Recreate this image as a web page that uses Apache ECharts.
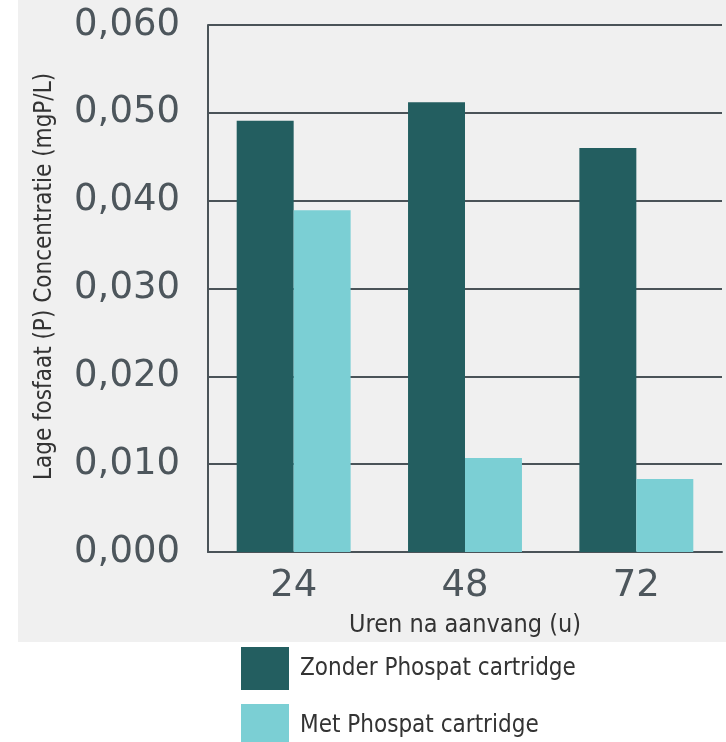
<!DOCTYPE html>
<html>
<head>
<meta charset="utf-8">
<script src="https://cdn.jsdelivr.net/npm/echarts@6/dist/echarts.min.js"></script>
<style>
html,body{margin:0;padding:0;background:#ffffff;}
#chart{width:726px;height:742px;}
</style>
</head>
<body>
<div id="chart"></div>
<script>
const categories = ['24', '48', '72'];
const zonderValues = [0.0491, 0.0512, 0.0460];
const metValues = [0.0389, 0.0107, 0.0083];
const seriesNames = ['Zonder Phospat cartridge', 'Met Phospat cartridge'];
const yTicks = { min: 0, max: 0.06, interval: 0.01 };
const xAxisTitle = 'Uren na aanvang (u)';
const yAxisTitle = 'Lage fosfaat (P) Concentratie (mgP/L)';

const condensed = '"Liberation Sans Narrow", "DejaVu Sans Condensed", sans-serif';
const axisColor = '#4a5358';

const legendBase = {
  orient: 'vertical',
  left: 236,
  itemWidth: 48, itemHeight: 43,
  icon: 'rect',
  textStyle: { fontFamily: condensed, fontSize: 24, color: '#333333', padding: [0, 0, 0, 6] }
};

const chart = echarts.init(document.getElementById('chart'), null, { renderer: 'canvas' });
chart.setOption({
  animation: false,
  backgroundColor: '#ffffff',
  graphic: [{
    type: 'rect',
    left: 18, top: 0,
    z: -100,
    shape: { width: 708, height: 642 },
    style: { fill: '#f0f0f0' },
    silent: true
  }],
  grid: { left: 208, right: 4, top: 25, bottom: 190, containLabel: false },
  legend: [
    Object.assign({}, legendBase, { top: 642, data: [seriesNames[0]] }),
    Object.assign({}, legendBase, { top: 699, data: [seriesNames[1]] })
  ],
  xAxis: {
    type: 'category',
    data: categories,
    name: xAxisTitle,
    nameLocation: 'middle',
    nameGap: 61,
    nameTextStyle: { fontFamily: condensed, fontSize: 25, color: '#333333' },
    axisLine: { show: true, lineStyle: { color: axisColor, width: 2 } },
    axisTick: { show: false },
    axisLabel: { margin: 16, fontFamily: '"DejaVu Sans", sans-serif', fontSize: 37, color: '#4d565c' }
  },
  yAxis: {
    type: 'value',
    min: yTicks.min, max: yTicks.max, interval: yTicks.interval,
    name: yAxisTitle,
    nameLocation: 'middle',
    nameGap: 151,
    nameTextStyle: { fontFamily: condensed, fontSize: 24, color: '#333333', padding: [0, 0, 0, 24] },
    axisLine: { show: true, lineStyle: { color: axisColor, width: 2 } },
    axisTick: { show: false },
    splitLine: { show: true, lineStyle: { color: axisColor, width: 2 } },
    axisLabel: {
      margin: 28, fontFamily: '"DejaVu Sans", sans-serif', fontSize: 37, color: '#4d565c',
      formatter: v => v.toFixed(3).replace('.', ',')
    }
  },
  series: [
    { name: seriesNames[0], type: 'bar', data: zonderValues, barGap: '0%', barCategoryGap: '33.5%',
      itemStyle: { color: '#235e60' } },
    { name: seriesNames[1], type: 'bar', data: metValues, barGap: '0%', barCategoryGap: '33.5%',
      itemStyle: { color: '#7bcfd4' } }
  ]
});
</script>
</body>
</html>
